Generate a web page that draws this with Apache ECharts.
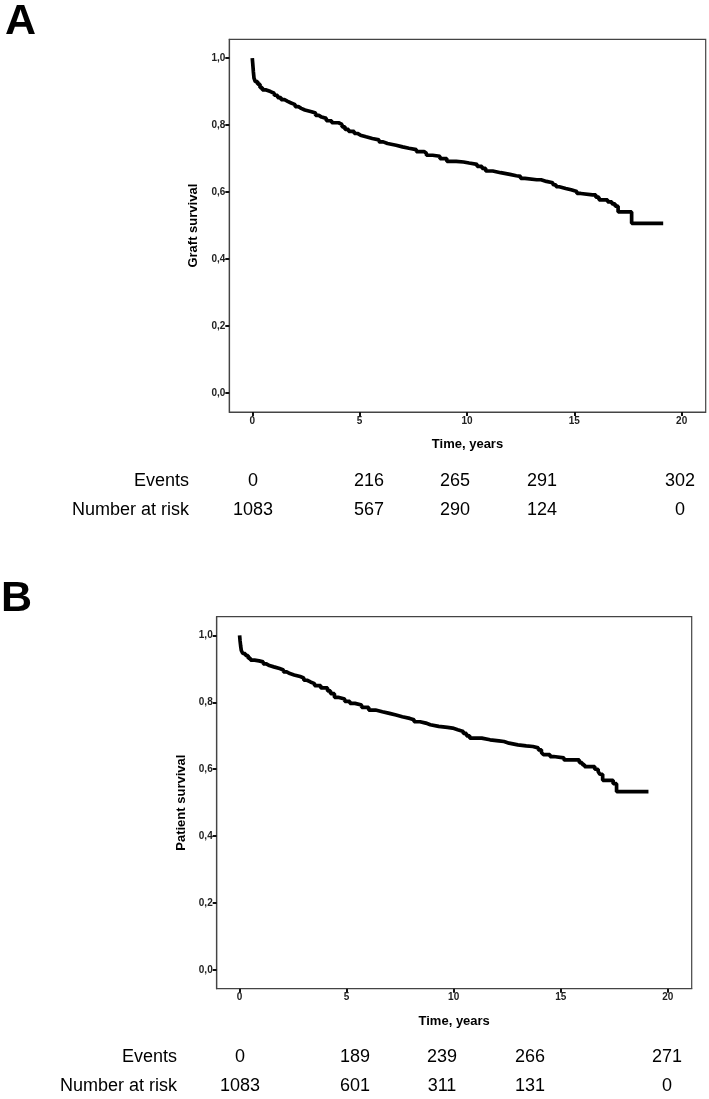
<!DOCTYPE html>
<html>
<head>
<meta charset="utf-8">
<script src="https://cdn.jsdelivr.net/npm/echarts@6/dist/echarts.min.js"></script>
<style>
  html, body { margin: 0; padding: 0; background: #fff; }
  #main { width: 709px; height: 1099px; }
</style>
</head>
<body>
<div id="main"></div>
<script>
// Kaplan-Meier steps: [time in years, survival]
const graftSurvival = [
  [0, 1.0], [0.02, 0.985], [0.05, 0.96], [0.08, 0.94], [0.14, 0.93], [0.25, 0.922], [0.36, 0.912],
  [0.47, 0.905], [0.65, 0.9], [0.85, 0.895], [1.02, 0.889], [1.18, 0.882], [1.34, 0.876], [1.5, 0.871],
  [1.65, 0.866], [1.81, 0.861], [2.0, 0.855], [2.15, 0.85], [2.28, 0.845], [2.45, 0.84], [2.76, 0.836],
  [2.95, 0.829], [3.1, 0.824], [3.23, 0.82], [3.45, 0.813], [3.7, 0.807], [4.02, 0.802], [4.18, 0.795],
  [4.32, 0.787], [4.49, 0.781], [4.75, 0.775], [4.9, 0.77], [5.04, 0.765], [5.3, 0.76], [5.59, 0.756],
  [5.9, 0.75], [6.1, 0.745], [6.3, 0.74], [6.7, 0.735], [7.0, 0.731], [7.3, 0.727], [7.64, 0.721],
  [8.0, 0.716], [8.11, 0.71], [8.4, 0.707], [8.74, 0.7], [9.06, 0.692], [9.5, 0.69], [9.84, 0.687],
  [10.1, 0.683], [10.47, 0.677], [10.7, 0.671], [10.87, 0.663], [11.2, 0.658], [11.57, 0.653],
  [12.0, 0.649], [12.3, 0.647], [12.5, 0.641], [12.7, 0.637], [13.25, 0.637], [13.45, 0.632],
  [13.7, 0.628], [14.0, 0.622], [14.15, 0.616], [14.3, 0.611], [14.6, 0.607], [14.85, 0.602],
  [15.12, 0.596], [15.3, 0.592], [15.85, 0.592], [16.0, 0.585], [16.15, 0.577], [16.55, 0.571],
  [16.75, 0.565], [16.9, 0.558], [17.04, 0.541], [17.67, 0.507], [19.14, 0.507]
];
const patientSurvival = [
  [0, 1.0], [0.02, 0.985], [0.05, 0.968], [0.08, 0.955], [0.15, 0.946], [0.27, 0.94], [0.4, 0.932],
  [0.51, 0.926], [0.7, 0.924], [0.91, 0.921], [1.1, 0.915], [1.25, 0.91], [1.39, 0.906], [1.6, 0.901],
  [1.87, 0.897], [2.05, 0.891], [2.2, 0.886], [2.35, 0.882], [2.55, 0.877], [2.83, 0.873], [3.0, 0.866],
  [3.15, 0.861], [3.31, 0.856], [3.5, 0.85], [3.79, 0.843], [4.11, 0.834], [4.25, 0.826], [4.43, 0.815],
  [4.6, 0.81], [4.91, 0.803], [5.15, 0.797], [5.39, 0.792], [5.7, 0.785], [6.03, 0.777], [6.35, 0.772],
  [6.67, 0.767], [7.0, 0.762], [7.31, 0.757], [7.6, 0.752], [7.95, 0.748], [8.15, 0.742], [8.43, 0.738],
  [8.7, 0.733], [8.91, 0.728], [9.3, 0.725], [9.71, 0.723], [9.95, 0.718], [10.19, 0.713], [10.45, 0.707],
  [10.6, 0.7], [10.75, 0.693], [11.31, 0.688], [11.7, 0.685], [12.11, 0.683], [12.35, 0.678],
  [12.59, 0.673], [13.0, 0.67], [13.39, 0.668], [13.7, 0.664], [13.95, 0.658], [14.1, 0.65],
  [14.19, 0.644], [14.5, 0.638], [14.67, 0.634], [15.15, 0.628], [15.87, 0.62], [16.0, 0.614],
  [16.11, 0.608], [16.59, 0.6], [16.75, 0.593], [16.83, 0.585], [16.96, 0.567], [17.45, 0.557],
  [17.61, 0.533], [19.1, 0.533]
];

const xTicks = [0, 5, 10, 15, 20];
const yTicks = [0, 0.2, 0.4, 0.6, 0.8, 1.0];

const rowLabels = ['Events', 'Number at risk'];
const graftEvents = [0, 216, 265, 291, 302];
const graftAtRisk = [1083, 567, 290, 124, 0];
const patientEvents = [0, 189, 239, 266, 271];
const patientAtRisk = [1083, 601, 311, 131, 0];

var myChart = echarts.init(document.getElementById('main'));

const axisFont = 'Liberation Sans, Arial, sans-serif';

function makeX(gridIndex) {
  return {
    type: 'value', gridIndex: gridIndex, min: -1.07, max: 21.12,
    name: 'Time, years', nameLocation: 'middle', nameGap: 26,
    nameTextStyle: { fontFamily: axisFont, fontWeight: 'bold', fontSize: 13, color: '#000' },
    axisLine: { show: true, onZero: false, lineStyle: { color: '#444', width: 1.2 } },
    axisTick: { show: true, customValues: xTicks, length: 4, lineStyle: { color: '#111', width: 2 } },
    axisLabel: { customValues: xTicks, margin: 4, fontFamily: axisFont, fontWeight: 'bold', fontSize: 10, color: '#222' },
    splitLine: { show: false }
  };
}
function makeY(gridIndex, title) {
  return {
    type: 'value', gridIndex: gridIndex, min: -0.056, max: 1.056,
    name: title, nameLocation: 'middle', nameGap: 29,
    nameTextStyle: { fontFamily: axisFont, fontWeight: 'bold', fontSize: 13, color: '#000' },
    axisLine: { show: true, onZero: false, lineStyle: { color: '#444', width: 1.2 } },
    axisTick: { show: true, customValues: yTicks, length: 4, lineStyle: { color: '#111', width: 2 } },
    axisLabel: {
      customValues: yTicks, margin: 4, fontFamily: axisFont, fontWeight: 'bold', fontSize: 10, color: '#222',
      formatter: function (v) { return v.toFixed(1).replace('.', ','); }
    },
    splitLine: { show: false }
  };
}

// table under each plot
const tableFont = 'Liberation Sans, Arial, sans-serif';
function tableTexts(labelRight, cols, rowsY, events, atRisk) {
  const out = [];
  [events, atRisk].forEach(function (row, r) {
    out.push({
      type: 'text', x: labelRight, y: rowsY[r],
      style: { text: rowLabels[r], align: 'right', verticalAlign: 'middle', font: '18px ' + tableFont, fill: '#000' }
    });
    row.forEach(function (v, i) {
      out.push({
        type: 'text', x: cols[i], y: rowsY[r],
        style: { text: String(v), align: 'center', verticalAlign: 'middle', font: '18px ' + tableFont, fill: '#000' }
      });
    });
  });
  return out;
}

const graphic = [
  { type: 'text', x: 5, y: 22, style: { text: 'A', align: 'left', verticalAlign: 'middle', font: 'bold 43px ' + axisFont, fill: '#000' } },
  { type: 'text', x: 1, y: 599, style: { text: 'B', align: 'left', verticalAlign: 'middle', font: 'bold 43px ' + axisFont, fill: '#000' } }
].concat(
  tableTexts(189, [253, 369, 455, 542, 680], [481, 510], graftEvents, graftAtRisk),
  tableTexts(177, [240, 355, 442, 530, 667], [1057, 1086], patientEvents, patientAtRisk)
);

const option = {
  animation: false,
  backgroundColor: '#fff',
  grid: [
    { left: 229.3, top: 39.3, width: 476.4, height: 372.7, show: true, borderColor: '#444', borderWidth: 1.2 },
    { left: 216.7, top: 616.7, width: 475, height: 372, show: true, borderColor: '#444', borderWidth: 1.2 }
  ],
  xAxis: [makeX(0), makeX(1)],
  yAxis: [makeY(0, 'Graft survival'), makeY(1, 'Patient survival')],
  series: [
    {
      name: 'Graft survival', type: 'line', step: 'end', xAxisIndex: 0, yAxisIndex: 0,
      symbol: 'none', data: graftSurvival, lineStyle: { color: '#000', width: 3.7 }
    },
    {
      name: 'Patient survival', type: 'line', step: 'end', xAxisIndex: 1, yAxisIndex: 1,
      symbol: 'none', data: patientSurvival, lineStyle: { color: '#000', width: 3.7 }
    }
  ],
  graphic: graphic
};

myChart.setOption(option);
</script>
</body>
</html>
